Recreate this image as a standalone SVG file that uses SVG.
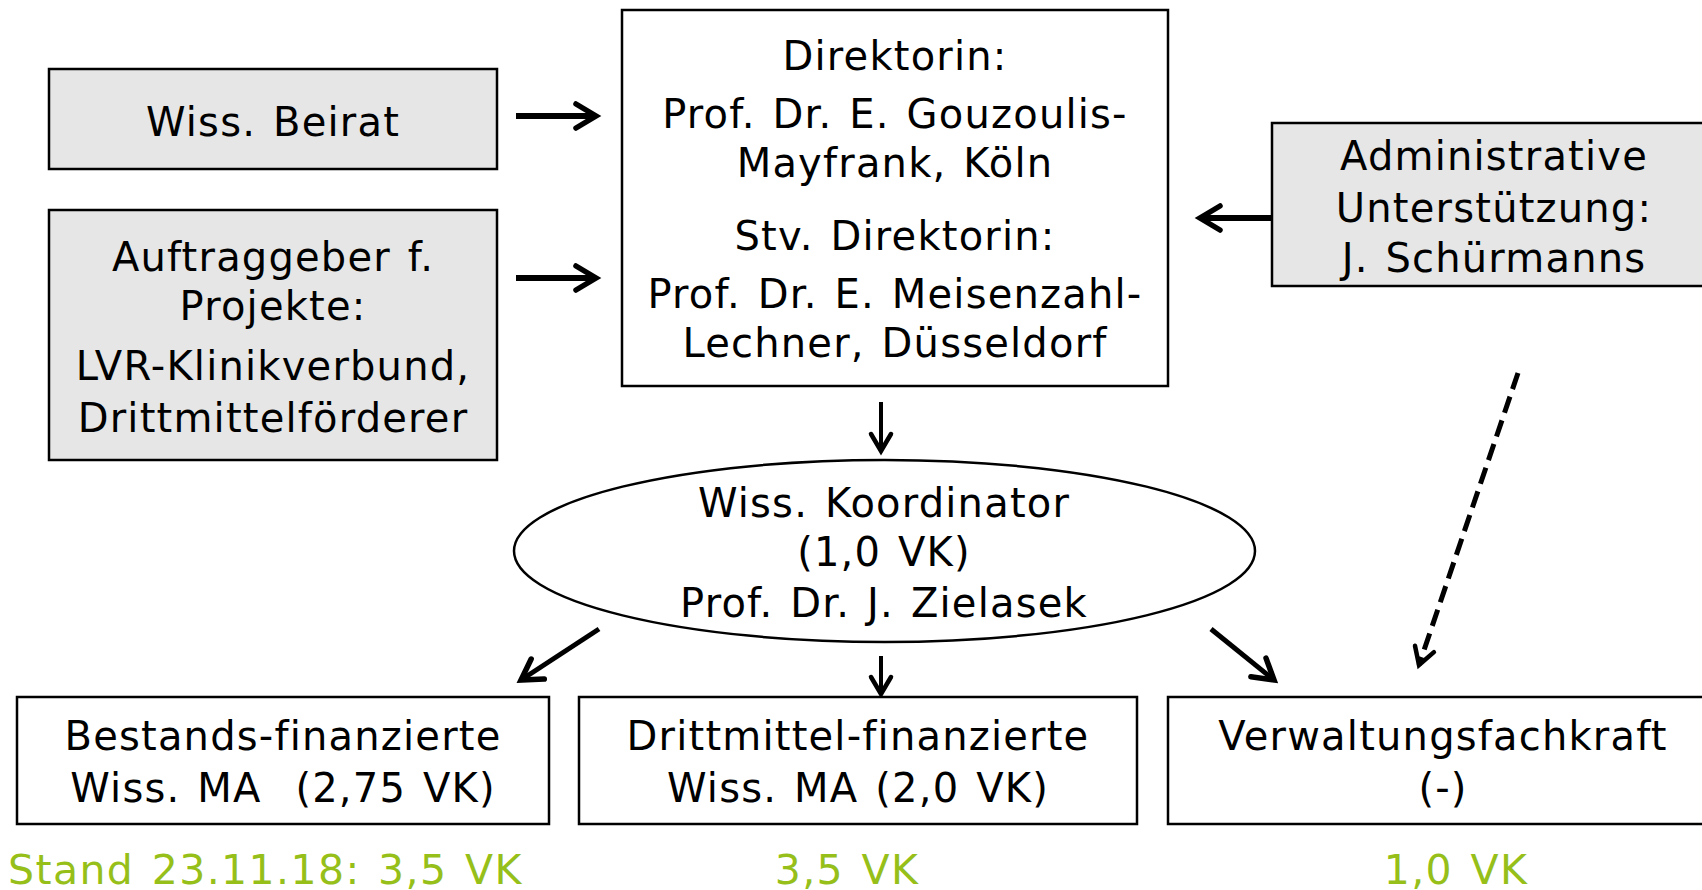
<svg xmlns="http://www.w3.org/2000/svg" width="1702" height="890" viewBox="0 0 1702 890">
<style>
  .t { font-family: "DejaVu Sans", Verdana, sans-serif; font-size: 40px; letter-spacing: 1.2px; word-spacing: 3px; fill: #000; text-anchor: middle; white-space: pre; }
  .g { fill: #96bf1a; font-size: 41px; letter-spacing: 1.4px; }
  .box { stroke: #000; stroke-width: 2.5; }
  .grey { fill: #e6e6e6; }
  .white { fill: #fff; }
  .c { fill: none; stroke: #000; }
  .thick { stroke-width: 6; }
  .mid { stroke-width: 5; }
  .thin { stroke-width: 4; }
  .dash { stroke-width: 5; stroke-dasharray: 17 8; }
</style>
<defs>
  <marker id="ah" markerUnits="userSpaceOnUse" viewBox="-30 -20 36 40" markerWidth="36" markerHeight="40" refX="0" refY="0" orient="auto">
    <path d="M-20,-12 L0,0 L-20,12" fill="none" stroke="#000" stroke-width="5.5" stroke-linecap="round" stroke-linejoin="miter"/>
  </marker>
  <marker id="ahs" markerUnits="userSpaceOnUse" viewBox="-30 -20 36 40" markerWidth="36" markerHeight="40" refX="0" refY="0" orient="auto">
    <path d="M-17,-10 L0,0 L-17,10" fill="none" stroke="#000" stroke-width="4.5" stroke-linecap="round" stroke-linejoin="miter"/>
  </marker>
</defs>
<rect width="1702" height="890" fill="#fff"/>

<g id="connectors">
  <line class="c thick" x1="516" y1="116" x2="596" y2="116" marker-end="url(#ah)"/>
  <line class="c thick" x1="516" y1="278" x2="596" y2="278" marker-end="url(#ah)"/>
  <line class="c thick" x1="1272" y1="218" x2="1200" y2="218" marker-end="url(#ah)"/>
  <line class="c thin" x1="881" y1="402" x2="881" y2="451" marker-end="url(#ahs)"/>
  <line class="c dash" x1="1518" y1="373" x2="1419" y2="665" marker-end="url(#ahs)"/>
  <line class="c mid" x1="599" y1="629" x2="521" y2="680" marker-end="url(#ah)"/>
  <line class="c thin" x1="881" y1="656" x2="881" y2="694" marker-end="url(#ahs)"/>
  <line class="c mid" x1="1211" y1="629" x2="1274" y2="680" marker-end="url(#ah)"/>
</g>

<g id="beirat">
  <rect class="box grey" x="49" y="69" width="448" height="100"/>
  <text class="t" x="273" y="136">Wiss. Beirat</text>
</g>

<g id="auftraggeber">
  <rect class="box grey" x="49" y="210" width="448" height="250"/>
  <text class="t" x="273" y="271">Auftraggeber f.</text>
  <text class="t" x="273" y="320">Projekte:</text>
  <text class="t" x="273" y="380">LVR-Klinikverbund,</text>
  <text class="t" x="273" y="432">Drittmittelförderer</text>
</g>

<g id="direktorin">
  <rect class="box white" x="622" y="10" width="546" height="376"/>
  <text class="t" x="895" y="70">Direktorin:</text>
  <text class="t" x="895" y="128">Prof. Dr. E. Gouzoulis-</text>
  <text class="t" x="895" y="177">Mayfrank, Köln</text>
  <text class="t" x="895" y="250">Stv. Direktorin:</text>
  <text class="t" x="895" y="308">Prof. Dr. E. Meisenzahl-</text>
  <text class="t" x="895" y="357">Lechner, Düsseldorf</text>
</g>

<g id="admin">
  <rect class="box grey" x="1272" y="123" width="445" height="163"/>
  <text class="t" x="1494" y="170">Administrative</text>
  <text class="t" x="1494" y="222">Unterstützung:</text>
  <text class="t" x="1494" y="272">J. Schürmanns</text>
</g>

<g id="koordinator">
  <ellipse class="box white" cx="884.5" cy="551" rx="370.5" ry="91"/>
  <text class="t" x="884" y="517">Wiss. Koordinator</text>
  <text class="t" x="884" y="566">(1,0 VK)</text>
  <text class="t" x="884" y="617">Prof. Dr. J. Zielasek</text>
</g>

<g id="bestand">
  <rect class="box white" x="17" y="697" width="532" height="127"/>
  <text class="t" x="283" y="750">Bestands-finanzierte</text>
  <text class="t" x="283" y="802">Wiss. MA  (2,75 VK)</text>
</g>

<g id="drittmittel">
  <rect class="box white" x="579" y="697" width="558" height="127"/>
  <text class="t" x="858" y="750">Drittmittel-finanzierte</text>
  <text class="t" x="858" y="802">Wiss. MA (2,0 VK)</text>
</g>

<g id="verwaltung">
  <rect class="box white" x="1168" y="697" width="550" height="127"/>
  <text class="t" x="1443" y="750">Verwaltungsfachkraft</text>
  <text class="t" x="1443" y="802">(-)</text>
</g>

<g id="stand">
  <text class="t g" x="8" y="884" style="text-anchor:start">Stand 23.11.18: 3,5 VK</text>
  <text class="t g" x="847" y="884">3,5 VK</text>
  <text class="t g" x="1456" y="884">1,0 VK</text>
</g>
</svg>
